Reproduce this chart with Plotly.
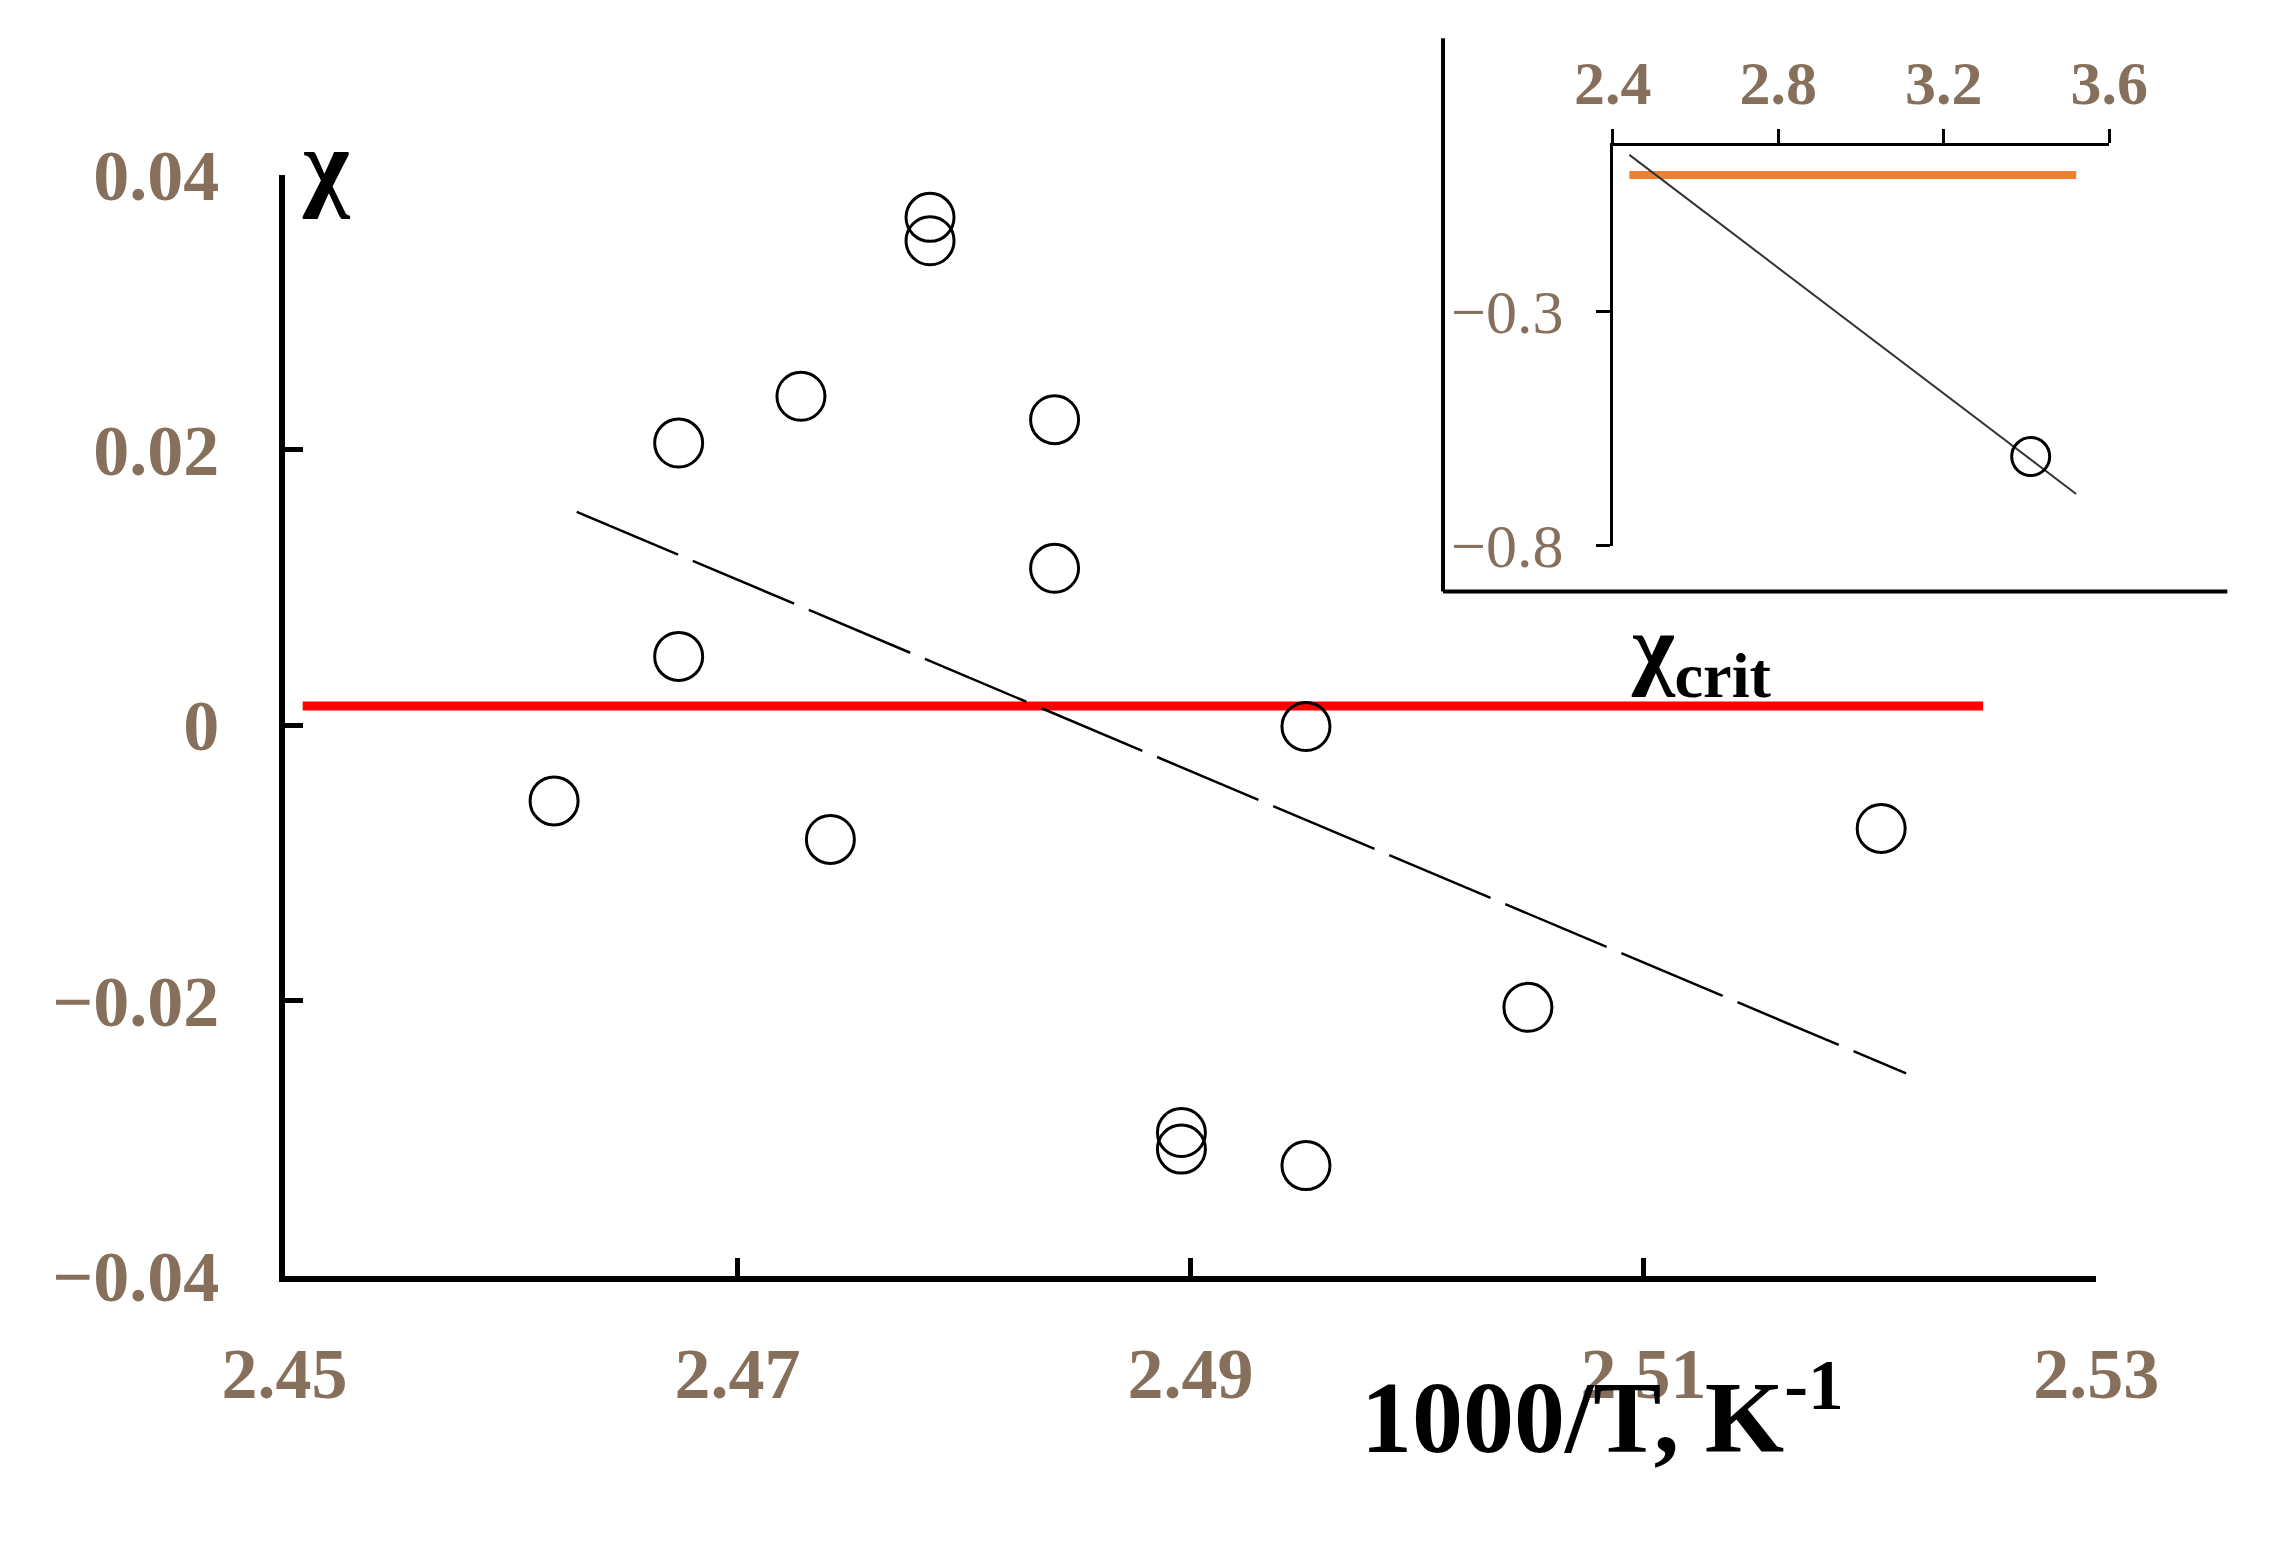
import plotly.graph_objects as go

# main chart data
inv_t = [2.4619, 2.4674, 2.4674, 2.4728, 2.4741, 2.4785, 2.4785, 2.4840, 2.4840,
         2.4896, 2.4896, 2.4951, 2.4951, 2.5049, 2.5205]
chi = [-0.0055, 0.0205, 0.0050, 0.0239, -0.0083, 0.0369, 0.0352, 0.0222, 0.0114,
       -0.0296, -0.0308, -0.0001, -0.0320, -0.0205, -0.0075]
crit_x = [2.4508, 2.525]
crit_y = [0.0014, 0.0014]
fit_x = [2.4629, 2.5216]
fit_y = [0.0155, -0.0253]

# inset data
ins_pt_x = [3.41]
ins_pt_y = [-0.61]
ins_fit_x = [2.44, 3.52]
ins_fit_y = [0.034, -0.69]
ins_crit_x = [2.44, 3.52]
ins_crit_y = [-0.009, -0.009]

W, H = 1560, 1073
FONT = "Liberation Serif"
TICKC = "#86705c"


def px(d):
    # reference pixel column -> paper fraction
    return (d * 1.0422 - 40.2) / W


def py(d):
    # reference pixel row -> paper fraction
    return 1 - (d * 1.0365 - 29.2) / H


fig = go.Figure()
fig.add_trace(go.Scatter(x=crit_x, y=crit_y, mode="lines",
                         line=dict(color="#ff0000", width=9)))
fig.add_trace(go.Scatter(x=fit_x, y=fit_y, mode="lines",
                         line=dict(color="black", width=2.5, dash="110px,16px")))
fig.add_trace(go.Scatter(x=inv_t, y=chi, mode="markers",
                         marker=dict(symbol="circle-open", size=48,
                                     color="black", line=dict(width=3))))

fig.add_trace(go.Scatter(x=ins_crit_x, y=ins_crit_y, mode="lines", xaxis="x2", yaxis="y2",
                         line=dict(color="#f08030", width=8)))
fig.add_trace(go.Scatter(x=ins_fit_x, y=ins_fit_y, mode="lines", xaxis="x2", yaxis="y2",
                         line=dict(color="#333333", width=2)))
fig.add_trace(go.Scatter(x=ins_pt_x, y=ins_pt_y, mode="markers", xaxis="x2", yaxis="y2",
                         marker=dict(symbol="circle-open", size=38,
                                     color="black", line=dict(width=3))))

tickfont = dict(family=FONT, size=72, color=TICKC)
fig.update_layout(
    width=2280, height=1568,
    margin=dict(l=0, r=0, t=0, b=0),
    plot_bgcolor="white", paper_bgcolor="white",
    showlegend=False,
    xaxis=dict(domain=[px(187), px(1446)], range=[2.45, 2.53],
               tickvals=[2.45, 2.47, 2.49, 2.51, 2.53],
               ticktext=["<b>2.45</b>", "<b>2.47</b>", "<b>2.49</b>", "<b>2.51</b>", "<b>2.53</b>"],
               ticks="inside", ticklen=18, tickwidth=5, tickcolor="black",
               showline=True, linecolor="black", linewidth=6,
               showgrid=False, zeroline=False, tickfont=tickfont, ticklabelstandoff=30),
    yaxis=dict(domain=[py(883), py(117)], range=[-0.04, 0.04],
               tickvals=[-0.04, -0.02, 0, 0.02, 0.04],
               ticktext=["<b>\u22120.04</b>", "<b>\u22120.02</b>", "<b>0</b>", "<b>0.02</b>", "<b>0.04</b>"],
               ticks="inside", ticklen=18, tickwidth=5, tickcolor="black",
               showline=True, linecolor="black", linewidth=6,
               showgrid=False, zeroline=False, tickfont=tickfont, ticklabelstandoff=45),
    xaxis2=dict(domain=[px(1110), px(1455)], range=[2.4, 3.6], anchor="y2", side="top",
                tickvals=[2.4, 2.8, 3.2, 3.6],
                ticktext=["<b>2.4</b>", "<b>2.8</b>", "<b>3.2</b>", "<b>3.6</b>"],
                ticks="outside", ticklen=14, tickwidth=3, tickcolor="black",
                showline=True, linecolor="black", linewidth=3,
                showgrid=False, zeroline=False,
                tickfont=dict(family=FONT, size=62, color=TICKC)),
    yaxis2=dict(domain=[py(375), py(97)], range=[-0.8, 0.053], anchor="x2",
                tickvals=[-0.8, -0.3],
                ticktext=["\u22120.8", "\u22120.3"],
                ticks="outside", ticklen=14, tickwidth=3, tickcolor="black",
                showline=True, linecolor="black", linewidth=3,
                showgrid=False, zeroline=False,
                tickfont=dict(family=FONT, size=62, color=TICKC), ticklabelstandoff=20),
    shapes=[
        dict(type="line", xref="paper", yref="paper", x0=px(992), x1=px(992),
             y0=py(22), y1=py(407), line=dict(color="black", width=4)),
        dict(type="line", xref="paper", yref="paper", x0=px(992), x1=px(1537),
             y0=py(407), y1=py(407), line=dict(color="black", width=4)),
    ],
    annotations=[
        dict(text="<b>\u03c7</b>", xref="paper", yref="paper", x=px(198), y=py(70),
             showarrow=False, font=dict(family=FONT, size=100, color="black")),
        dict(text="<b>1000/T, K<sup>-1</sup></b>", xref="paper", yref="paper",
             x=px(1272), y=py(1022), showarrow=False,
             font=dict(family=FONT, size=102, color="black")),
        dict(text="<b>\u03c7<sub>crit</sub></b>", xref="paper", yref="paper",
             x=px(1222), y=py(450), showarrow=False,
             font=dict(family=FONT, size=92, color="black")),
    ],
)

fig.write_html("out.html")
